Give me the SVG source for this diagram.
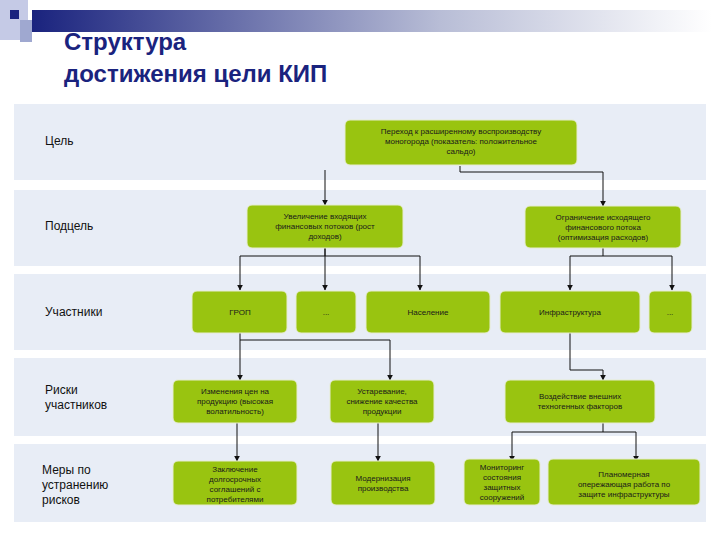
<svg xmlns="http://www.w3.org/2000/svg" width="720" height="540" viewBox="0 0 720 540">
<defs>
<linearGradient id="hg" x1="0" x2="1"><stop offset="0" stop-color="#1a237e"/><stop offset="0.6" stop-color="#b8bdd6"/><stop offset="1" stop-color="#ffffff"/></linearGradient>
<marker id="ar" viewBox="0 0 10 10" refX="9" refY="5" markerWidth="6" markerHeight="6" orient="auto"><path d="M0,0L10,5L0,10z" fill="#111"/></marker>
</defs>
<style>
.band{fill:#e8edf6}
.box{fill:#99c410;stroke:#e6ecd0;stroke-width:1}
.bt{font-family:"Liberation Sans",Arial,sans-serif;font-size:8px;fill:#1a1a1a;text-anchor:middle}
.lb{font-family:"Liberation Sans",Arial,sans-serif;font-size:12px;fill:#111}
.c{fill:none;stroke:#111;stroke-width:1;marker-end:url(#ar)}
</style>
<rect width="720" height="540" fill="#fff"/>
<rect x="32" y="10" width="680" height="22" fill="url(#hg)"/>
<rect x="0" y="0" width="28" height="40" fill="#c5cae6"/>
<rect x="10" y="10" width="9" height="9" fill="#1a237e"/>
<rect x="20" y="20" width="12" height="22" fill="#9fa8d0"/>
<text x="64" y="50" font-family="Liberation Sans,Arial,sans-serif" font-size="24" font-weight="bold" fill="#1a237e">Структура</text>
<text x="64" y="82" font-family="Liberation Sans,Arial,sans-serif" font-size="24" font-weight="bold" fill="#1a237e">достижения цели КИП</text>
<rect class="band" x="14" y="104" width="692" height="76"/>
<rect class="band" x="14" y="190" width="692" height="76"/>
<rect class="band" x="14" y="274" width="692" height="76"/>
<rect class="band" x="14" y="358" width="692" height="78"/>
<rect class="band" x="14" y="444" width="692" height="78"/>
<text class="lb" x="45" y="145">Цель</text>
<text class="lb" x="45" y="230">Подцель</text>
<text class="lb" x="45" y="316">Участники</text>
<text class="lb" x="45" y="394">Риски</text><text class="lb" x="45" y="409">участников</text>
<text class="lb" x="42" y="474">Меры по</text><text class="lb" x="42" y="489">устранению</text><text class="lb" x="42" y="504">рисков</text>
<g id="connectors">
<path class="c" d="M325,170V205"/>
<path class="c" d="M460,166V172H603V206"/>
<path class="c" d="M325,248V256H240V290"/>
<path class="c" d="M325,248V290"/>
<path class="c" d="M325,256H420V290"/>
<path class="c" d="M603,248V256H570V290"/>
<path class="c" d="M603,256H672V290"/>
<path class="c" d="M240,333V345V380"/>
<path class="c" d="M240,340H390V380"/>
<path class="c" d="M570,333V370H603V380"/>
<path class="c" d="M237,423V461"/>
<path class="c" d="M378,423V461"/>
<path class="c" d="M603,423V432H512V461"/>
<path class="c" d="M603,432H636V461"/>
</g>
<g id="goal"><rect class="box" x="345" y="120" width="232" height="45" rx="5"/><text class="bt" x="461" y="134">Переход к расширенному воспроизводству</text><text class="bt" x="461" y="144">моногорода (показатель: положительное</text><text class="bt" x="461" y="154">сальдо)</text></g>
<g id="sub1"><rect class="box" x="247" y="205" width="156" height="43" rx="5"/><text class="bt" x="325" y="219">Увеличение входящих</text><text class="bt" x="325" y="229">финансовых потоков (рост</text><text class="bt" x="325" y="239">доходов)</text></g>
<g id="sub2"><rect class="box" x="525" y="206" width="156" height="42" rx="5"/><text class="bt" x="603" y="220">Ограничение исходящего</text><text class="bt" x="603" y="230">финансового потока</text><text class="bt" x="603" y="240">(оптимизация расходов)</text></g>
<g id="p1"><rect class="box" x="192" y="291" width="95" height="42" rx="5"/><text class="bt" x="240" y="315">ГРОП</text></g>
<g id="p2"><rect class="box" x="296" y="291" width="60" height="42" rx="5"/><text class="bt" x="326" y="315">...</text></g>
<g id="p3"><rect class="box" x="366" y="291" width="124" height="42" rx="5"/><text class="bt" x="428" y="315">Население</text></g>
<g id="p4"><rect class="box" x="500" y="291" width="140" height="42" rx="5"/><text class="bt" x="570" y="315">Инфраструктура</text></g>
<g id="p5"><rect class="box" x="649" y="291" width="43" height="42" rx="5"/><text class="bt" x="670" y="315">...</text></g>
<g id="r1"><rect class="box" x="173" y="380" width="124" height="43" rx="5"/><text class="bt" x="235" y="394">Изменения цен на</text><text class="bt" x="235" y="404">продукцию (высокая</text><text class="bt" x="235" y="414">волатильность)</text></g>
<g id="r2"><rect class="box" x="330" y="380" width="104" height="43" rx="5"/><text class="bt" x="382" y="394">Устаревание,</text><text class="bt" x="382" y="404">снижение качества</text><text class="bt" x="382" y="414">продукции</text></g>
<g id="r3"><rect class="box" x="505" y="380" width="150" height="43" rx="5"/><text class="bt" x="580" y="399">Воздействие внешних</text><text class="bt" x="580" y="409">техногенных факторов</text></g>
<g id="m1"><rect class="box" x="173" y="461" width="124" height="44" rx="5"/><text class="bt" x="235" y="472">Заключение</text><text class="bt" x="235" y="482">долгосрочных</text><text class="bt" x="235" y="492">соглашений с</text><text class="bt" x="235" y="502">потребителями</text></g>
<g id="m2"><rect class="box" x="331" y="461" width="104" height="44" rx="5"/><text class="bt" x="383" y="481">Модернизация</text><text class="bt" x="383" y="491">производства</text></g>
<g id="m3"><rect class="box" x="464" y="459" width="76" height="46" rx="5"/><text class="bt" x="502" y="470">Мониторинг</text><text class="bt" x="502" y="480">состояния</text><text class="bt" x="502" y="490">защитных</text><text class="bt" x="502" y="500">сооружений</text></g>
<g id="m4"><rect class="box" x="548" y="459" width="152" height="46" rx="5"/><text class="bt" x="624" y="477">Планомерная</text><text class="bt" x="624" y="487">опережающая работа по</text><text class="bt" x="624" y="497">защите инфраструктуры</text></g>
</svg>
